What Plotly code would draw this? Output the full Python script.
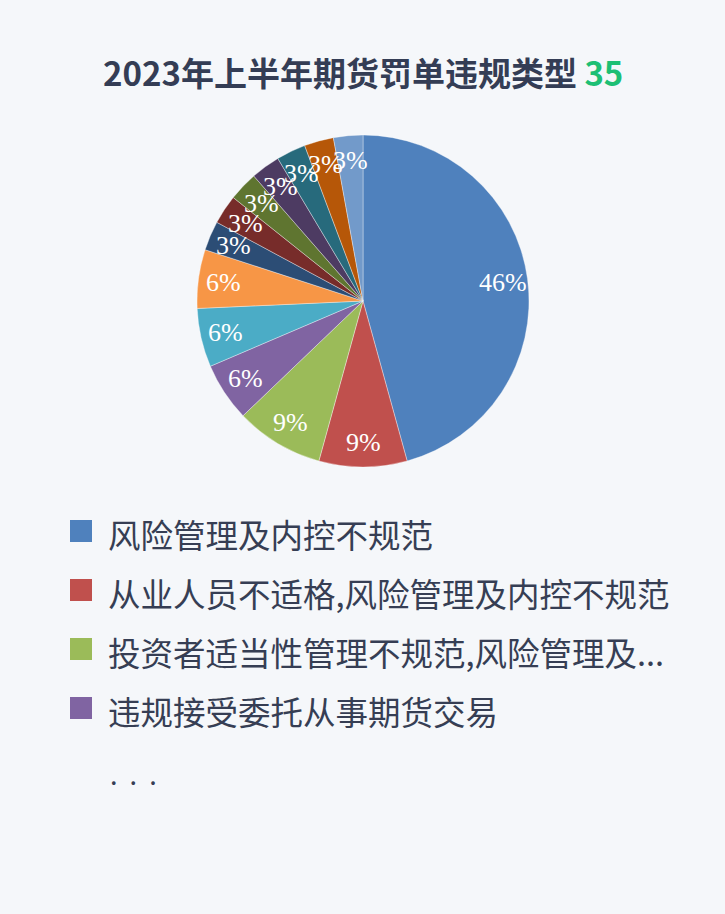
import math

import plotly.graph_objects as go

W, H = 725, 914

# data
labels = [
    "风险管理及内控不规范",
    "从业人员不适格,风险管理及内控不规范",
    "投资者适当性管理不规范,风险管理及...",
    "违规接受委托从事期货交易",
    "类型5", "类型6", "类型7", "类型8", "类型9",
    "类型10", "类型11", "类型12", "类型13",
]
counts = [16, 3, 3, 2, 2, 2, 1, 1, 1, 1, 1, 1, 1]
colors = [
    "#4F81BD", "#C0504D", "#9BBB59", "#8064A2", "#4BACC6", "#F79646",
    "#2C4D75", "#772C2A", "#5F7530", "#4D3B62", "#276A7C", "#B65708", "#729ACA",
]
legend_shown = labels[:4]
total = sum(counts)

title_text = "2023年上半年期货罚单违规类型"

# pie geometry in pixels
cx, cy, R = 363, 301, 166
label_r = 0.85 * R


def px(x):
    return x / W


def py(y):
    return 1 - y / H


fig = go.Figure()
fig.add_trace(
    go.Pie(
        labels=labels,
        values=counts,
        sort=False,
        direction="clockwise",
        rotation=0,
        marker=dict(colors=colors, line=dict(color="rgba(255,255,255,0.6)", width=0.6)),
        textinfo="none",
        showlegend=False,
        domain=dict(x=[px(cx - R), px(cx + R)], y=[py(cy + R), py(cy - R)]),
        hovertemplate="%{label}: %{value} (%{percent})<extra></extra>",
    )
)

annotations = []
cum = 0
for v in counts:
    mid = (cum + v / 2) / total * 2 * math.pi
    cum += v
    lx = cx + label_r * math.sin(mid)
    ly = cy - label_r * math.cos(mid)
    annotations.append(
        dict(
            x=px(lx), y=py(ly), xref="paper", yref="paper",
            text=f"{round(v / total * 100)}%", showarrow=False,
            xanchor="center", yanchor="middle",
            font=dict(family="Liberation Serif", size=26, color="white"),
        )
    )

# title
annotations.append(
    dict(
        x=px(363), y=py(72), xref="paper", yref="paper", showarrow=False,
        xanchor="center", yanchor="middle",
        text=f"<b>{title_text} <span style='color:#1DBF74'>{total}</span></b>",
        font=dict(family="Noto Sans CJK SC", size=33, color="#343D55"),
    )
)

# custom legend
shapes = []
for i, name in enumerate(legend_shown):
    yc = 531 + i * 59
    shapes.append(
        dict(
            type="rect", xref="paper", yref="paper",
            x0=px(70), x1=px(92), y0=py(yc - 11), y1=py(yc + 11),
            fillcolor=colors[i], line=dict(width=0),
        )
    )
    annotations.append(
        dict(
            x=px(106), y=py(yc + 2), xref="paper", yref="paper", showarrow=False,
            xanchor="left", yanchor="middle", text=name,
            font=dict(family="Noto Sans CJK SC", size=32.5, color="#363E54"),
        )
    )
annotations.append(
    dict(
        x=px(108), y=py(773), xref="paper", yref="paper", showarrow=False,
        xanchor="left", yanchor="middle", text=".  .  .",
        font=dict(family="Noto Sans CJK SC", size=27, color="#363E54"),
    )
)

fig.update_layout(
    width=W, height=H,
    margin=dict(l=0, r=0, t=0, b=0),
    paper_bgcolor="#F5F7FA",
    plot_bgcolor="#F5F7FA",
    annotations=annotations,
    shapes=shapes,
)

fig.write_html(
    "out.html",
    config={"displayModeBar": False},
    post_script="document.body.style.margin='0';document.body.style.background='#F5F7FA';",
)
